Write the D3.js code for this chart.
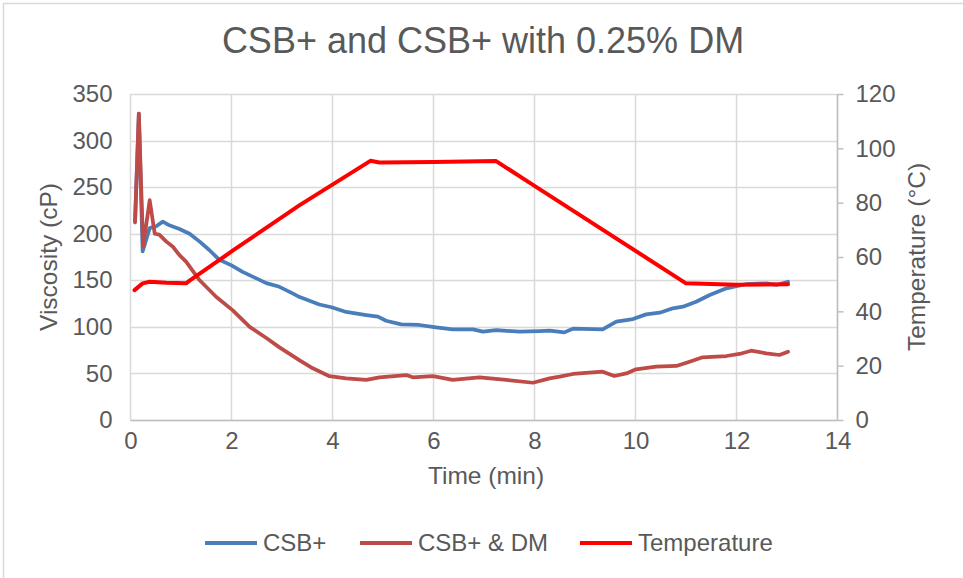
<!DOCTYPE html>
<html>
<head>
<meta charset="utf-8">
<script src="https://cdn.jsdelivr.net/npm/d3@7"></script>
<style>
  html, body { margin: 0; padding: 0; background: #fff; }
  svg { display: block; font-family: "Liberation Sans", Arial, Helvetica, sans-serif; }
</style>
</head>
<body>
<svg id="chart" width="963" height="578"></svg>
<script>
// ---- data ----
const csbTime = [0.09, 0.165, 0.24, 0.38, 0.51, 0.64, 0.77, 0.97, 1.17, 1.37, 1.56, 1.76, 2.0, 2.22, 2.69, 2.95, 3.21, 3.35, 3.74, 3.98, 4.27, 4.67, 4.90, 5.06, 5.36, 5.72, 6.05, 6.38, 6.78, 6.98, 7.24, 7.70, 8.10, 8.30, 8.59, 8.76, 9.35, 9.62, 9.95, 10.21, 10.48, 10.74, 10.94, 11.20, 11.47, 11.80, 12.20, 12.59, 12.79, 13.02];
const csbVisc = [212, 329, 181, 206, 208, 213, 209, 205, 200, 191.5, 182.5, 172, 166, 159, 147, 143, 136, 132, 124, 121, 116, 112.7, 111, 106.6, 102.7, 102, 99.5, 97.3, 97.3, 94.8, 96.6, 94.8, 95.5, 95.9, 94.1, 98, 97.3, 105.6, 108.4, 113.4, 115.2, 119.9, 121.7, 127, 134.2, 141.4, 146, 146.7, 145, 148.5];

const dmTime = [0.09, 0.165, 0.25, 0.38, 0.48, 0.57, 0.71, 0.84, 0.97, 1.10, 1.37, 1.70, 2.02, 2.36, 2.69, 2.95, 3.35, 3.61, 3.94, 4.27, 4.67, 4.93, 5.46, 5.59, 5.99, 6.38, 6.91, 7.44, 7.97, 8.30, 8.50, 8.76, 9.09, 9.35, 9.58, 9.82, 10.01, 10.41, 10.81, 11.07, 11.33, 11.80, 12.06, 12.29, 12.59, 12.85, 13.02];
const dmVisc = [213, 329, 186, 236, 200, 199, 191.5, 186, 177, 170, 150, 132, 118, 100, 88, 78, 64, 55.5, 47, 44.7, 43, 45.8, 48.3, 45.8, 47.2, 43, 45.8, 43, 40, 44.7, 46.5, 49.4, 50.8, 51.9, 47.2, 50, 54.4, 57.2, 58, 62.6, 67.3, 68.7, 70.9, 74.4, 71.6, 69.8, 73.3];

const tempTime = [0.08, 0.24, 0.38, 0.71, 1.10, 1.17, 2.03, 3.35, 4.75, 4.93, 6.00, 7.24, 7.90, 11.00, 12.00, 13.02];
const tempVal  = [47.8, 50.3, 50.9, 50.5, 50.3, 51.3, 62.4, 79.1, 95.4, 94.8, 95.0, 95.3, 87.4, 50.3, 49.8, 50.0];

const xTicks = [0, 2, 4, 6, 8, 10, 12, 14];
const yLeftTicks = [0, 50, 100, 150, 200, 250, 300, 350];
const yRightTicks = [0, 20, 40, 60, 80, 100, 120];

const seriesNames = ["CSB+", "CSB+ & DM", "Temperature"];
const seriesColors = ["#4a7ebb", "#be4b48", "#ff0000"];

// ---- layout ----
const svg = d3.select("#chart");
const textColor = "#595959";
const gridColor = "#d9d9d9";
const L = 130.5, R = 837.5, T = 94, B = 420;

const x = d3.scaleLinear().domain([0, 14]).range([L, R]);
const yL = d3.scaleLinear().domain([0, 350]).range([B, T]);
const yR = d3.scaleLinear().domain([0, 120]).range([B, T]);

// outer frame (left/top visible)
svg.append("rect").attr("x", 3.5).attr("y", 3.5).attr("width", 1200).attr("height", 1200)
  .attr("fill", "none").attr("stroke", gridColor).attr("stroke-width", 1.5);

// title
svg.append("text").attr("x", 483).attr("y", 53).attr("text-anchor", "middle")
  .attr("fill", textColor).attr("font-size", 36).text("CSB+ and CSB+ with 0.25% DM");

// gridlines
const g = svg.append("g");
g.selectAll("line.h").data(yLeftTicks).enter().append("line")
  .attr("x1", L).attr("x2", R).attr("y1", d => Math.round(yL(d)) + 0.5).attr("y2", d => Math.round(yL(d)) + 0.5)
  .attr("stroke", gridColor).attr("stroke-width", 1.5);
g.selectAll("line.v").data(xTicks).enter().append("line")
  .attr("y1", T).attr("y2", B).attr("x1", d => x(d)).attr("x2", d => x(d))
  .attr("stroke", gridColor).attr("stroke-width", 1.5);

// axes lines
svg.append("line").attr("x1", L).attr("x2", R).attr("y1", B + 0.5).attr("y2", B + 0.5)
  .attr("stroke", "#bfbfbf").attr("stroke-width", 1.5);
svg.append("line").attr("x1", R).attr("x2", R).attr("y1", T).attr("y2", B)
  .attr("stroke", "#bfbfbf").attr("stroke-width", 1.5);

// left axis
const axL = d3.axisLeft(yL).tickValues(yLeftTicks).tickSize(0).tickPadding(18);
const gL = svg.append("g").attr("transform", `translate(${L},0)`).call(axL);
gL.select(".domain").remove();
gL.selectAll("text").attr("fill", textColor).attr("font-size", 24)
  .attr("font-family", "'Liberation Sans', Arial, sans-serif");

// right axis
const axR = d3.axisRight(yR).tickValues(yRightTicks).tickSize(6).tickPadding(12);
const gR = svg.append("g").attr("transform", `translate(${R},0)`).call(axR);
gR.select(".domain").remove();
gR.selectAll("line").attr("stroke", "#bfbfbf").attr("stroke-width", 1.5);
gR.selectAll("text").attr("fill", textColor).attr("font-size", 24)
  .attr("font-family", "'Liberation Sans', Arial, sans-serif");

// bottom axis
const axB = d3.axisBottom(x).tickValues(xTicks).tickSize(0).tickPadding(12);
const gB = svg.append("g").attr("transform", `translate(0,${B})`).call(axB);
gB.select(".domain").remove();
gB.selectAll("text").attr("fill", textColor).attr("font-size", 24)
  .attr("font-family", "'Liberation Sans', Arial, sans-serif");

// axis titles
svg.append("text").attr("x", 486).attr("y", 484).attr("text-anchor", "middle")
  .attr("fill", textColor).attr("font-size", 24.5).text("Time (min)");
svg.append("text").attr("transform", `translate(57,${(T + B) / 2}) rotate(-90)`).attr("text-anchor", "middle")
  .attr("fill", textColor).attr("font-size", 24.5).text("Viscosity (cP)");
svg.append("text").attr("transform", `translate(925,${(T + B) / 2}) rotate(-90)`).attr("text-anchor", "middle")
  .attr("fill", textColor).attr("font-size", 24.5).text("Temperature (°C)");

// lines
const lineL = d3.line().x(d => x(d[0])).y(d => yL(d[1])).curve(d3.curveLinear);
const lineR = d3.line().x(d => x(d[0])).y(d => yR(d[1])).curve(d3.curveLinear);

svg.append("path").datum(csbTime.map((t, i) => [t, csbVisc[i]]))
  .attr("d", lineL).attr("fill", "none").attr("stroke", seriesColors[0])
  .attr("stroke-width", 3.75).attr("stroke-linejoin", "round").attr("stroke-linecap", "round");
svg.append("path").datum(dmTime.map((t, i) => [t, dmVisc[i]]))
  .attr("d", lineL).attr("fill", "none").attr("stroke", seriesColors[1])
  .attr("stroke-width", 3.75).attr("stroke-linejoin", "round").attr("stroke-linecap", "round");
svg.append("path").datum(tempTime.map((t, i) => [t, tempVal[i]]))
  .attr("d", lineR).attr("fill", "none").attr("stroke", seriesColors[2])
  .attr("stroke-width", 4).attr("stroke-linejoin", "round").attr("stroke-linecap", "round");

// legend
const legendX = [205, 360, 580];
const lg = svg.append("g");
seriesNames.forEach((name, i) => {
  lg.append("line").attr("x1", legendX[i]).attr("x2", legendX[i] + 52).attr("y1", 543).attr("y2", 543)
    .attr("stroke", seriesColors[i]).attr("stroke-width", 4);
  lg.append("text").attr("x", legendX[i] + 58).attr("y", 551).attr("fill", textColor)
    .attr("font-size", 24).text(name);
});
</script>
</body>
</html>
